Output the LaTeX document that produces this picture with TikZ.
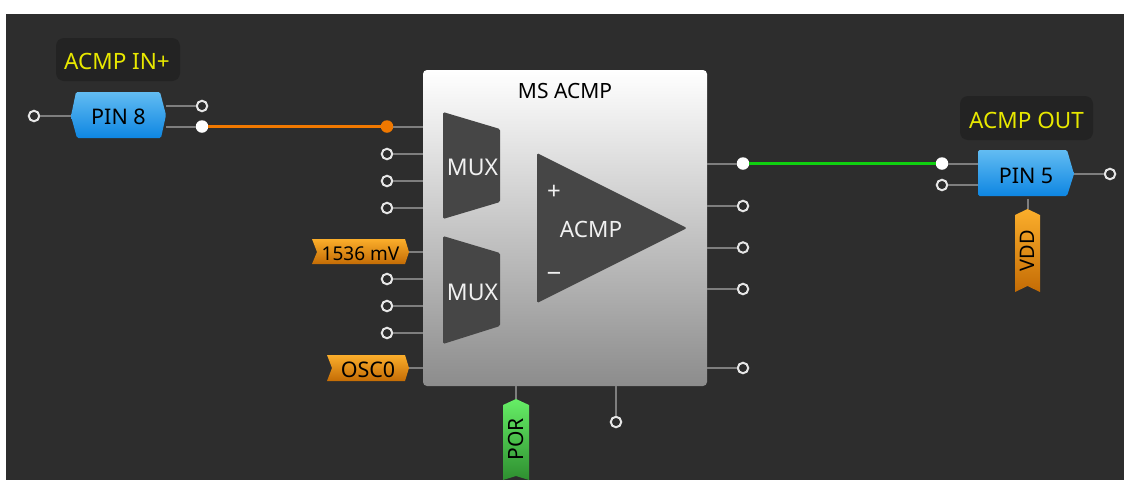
\documentclass[tikz,border=0pt]{standalone}
\usepackage{fontspec}
\setmainfont{Noto Sans}
\definecolor{bgdark}{HTML}{2D2D2D}
\definecolor{labelbg}{HTML}{232323}
\definecolor{wiregray}{HTML}{7E7E7E}
\definecolor{ringc}{HTML}{E6E6E6}
\definecolor{dimc}{HTML}{464646}
\definecolor{texty}{HTML}{E8E800}
\definecolor{ontxt}{HTML}{F0F0F0}
\definecolor{orwirec}{HTML}{F07800}
\definecolor{grwirec}{HTML}{10D010}
\definecolor{pintop}{HTML}{62BCF2}
\definecolor{pinbot}{HTML}{0E86E2}
\definecolor{ortop}{HTML}{FBAE2B}
\definecolor{orbot}{HTML}{C46C05}
\definecolor{grtop}{HTML}{66EE66}
\definecolor{grbot}{HTML}{2E8F30}
\definecolor{blockbot}{HTML}{8C8C8C}
\tikzset{
  x=1pt,y=-1pt,
  port/.style={circle,draw=ringc,fill=bgdark,line width=2pt,minimum size=10.5pt,inner sep=0pt},
  onport/.style={circle,fill=white,minimum size=12.5pt,inner sep=0pt},
  orport/.style={circle,fill=orwirec,minimum size=12.5pt,inner sep=0pt},
  wire/.style={draw=wiregray,line width=2pt},
  orwire/.style={draw=orwirec,line width=2.5pt},
  grwire/.style={draw=grwirec,line width=2.5pt},
  fnt/.style={font=\fontsize{#1}{#1}\selectfont,inner sep=0pt},
  notebox/.style={fill=labelbg,rounded corners=8pt,inner sep=0pt},
  notetext/.style={text=texty,fnt=22.5},
  pinshade/.style={top color=pintop,bottom color=pinbot,rounded corners=1.5pt},
  orshade/.style={top color=ortop,bottom color=orbot},
  grshade/.style={top color=grtop,bottom color=grbot},
  muxshape/.style={fill=dimc,rounded corners=1.5pt},
}
\begin{document}
\begin{tikzpicture}
\useasboundingbox (0,0) rectangle (1124,480);
\fill[white] (0,0) rectangle (1124,480);
\fill[bgdark] (6,14) rectangle (1124,480);

% labels
\node[notebox,minimum width=124pt,minimum height=43pt] (lblin) at (118,59.5) {};
\node[notetext] (lblintext) at (117,61.5) {ACMP IN+};
\node[notebox,minimum width=133pt,minimum height=44pt] (lblout) at (1026.5,118) {};
\node[notetext] (lblouttext) at (1026.5,120) {ACMP OUT};

% main block
\node[rounded corners=4pt,top color=white,bottom color=blockbot,minimum width=284pt,minimum height=316pt,inner sep=0pt] (block) at (565,228) {};
\node[fnt=21,text=black] (blocktitle) at (565,90.5) {MS ACMP};

% muxes and comparator
\fill[muxshape] (443,112) -- (500,129) -- (500,202) -- (443,219) -- cycle;
\fill[muxshape] (443,236) -- (500,253) -- (500,326) -- (443,344) -- cycle;
\fill[muxshape] (537,153) -- (687,228) -- (537,303) -- cycle;
\node[fnt=23,text=ontxt] (mux1) at (472.5,167.5) {MUX};
\node[fnt=23,text=ontxt] (mux2) at (472.5,292.5) {MUX};
\node[fnt=22.5,text=ontxt] (acmp) at (591,229) {ACMP};
\node[fnt=24,text=ontxt] (plus) at (554,192) {+};
\node[fnt=26,text=ontxt] (minus) at (554,277) {\char"2212};

% pin 8
\shade[pinshade] (76,92) -- (160,92) -- (166,115) -- (161,138) -- (77,138) -- (71,116) -- cycle;
\node[fnt=21.5,text=black,minimum width=95pt,minimum height=46pt] (pin8) at (118.5,117) {PIN 8};
% pin 5
\shade[pinshade] (978,150) -- (1067,150) -- (1074,174) -- (1067,196) -- (978,196) -- cycle;
\node[fnt=21.5,text=black,minimum width=96pt,minimum height=46pt] (pin5) at (1026,175.5) {PIN 5};

% tags
\shade[orshade] (312,239) -- (405,239) -- (409,252) -- (405,264) -- (312,264) -- (317,252) -- cycle;
\node[fnt=19,text=black,minimum width=97pt,minimum height=25pt] (tagmv) at (360.5,253.5) {1536 mV};
\coordinate (mvtip) at (409,251.5);
\shade[orshade] (327,355) -- (405,355) -- (409,368) -- (405,381) -- (327,381) -- (332,368) -- cycle;
\node[fnt=21.5,text=black,minimum width=82pt,minimum height=26pt] (tagosc) at (368,369.5) {OSC0};
\coordinate (osctip) at (409,368);
\shade[orshade] (1015,215) -- (1027.5,209) -- (1040,215) -- (1040,292) -- (1027.5,286) -- (1015,292) -- cycle;
\node[fnt=20,text=black,rotate=90,minimum width=83pt,minimum height=25pt] (tagvdd) at (1027.5,250.5) {VDD};
\shade[grshade] (503,405) -- (516,399) -- (529,405) -- (529,480) -- (516,476) -- (503,480) -- cycle;
\node[fnt=21,text=black,rotate=90,minimum width=81pt,minimum height=26pt] (tagpor) at (516,439.5) {POR};

% ports
\node[port] (p8in) at (34,116) {};
\node[port] (p8a) at (202,106) {};
\node[onport] (p8b) at (202,126.5) {};
\node[orport] (i1) at (387,126.5) {};
\node[port] (i2) at (387,154) {};
\node[port] (i3) at (387,181) {};
\node[port] (i4) at (387,208) {};
\node[port] (i6) at (387,279) {};
\node[port] (i7) at (387,306) {};
\node[port] (i8) at (387,333) {};
\node[onport] (o1) at (743,163.5) {};
\node[port] (o2) at (743,206) {};
\node[port] (o3) at (743,247.5) {};
\node[port] (o4) at (743,289) {};
\node[port] (o5) at (743,368) {};
\node[port] (bot) at (616,422) {};
\node[onport] (p5a) at (942,163.5) {};
\node[port] (p5b) at (942,185) {};
\node[port] (p5out) at (1110,174) {};

% connectors
\draw[wire] (p8in) -- (p8in -| pin8.west);
\draw[wire] (p8a) -- (p8a -| pin8.east);
\draw[wire] (p8b) -- (p8b -| pin8.east);
\foreach \n in {i1,i2,i3,i4,i6,i7,i8}{\draw[wire] (\n) -- (\n -| block.west);}
\foreach \n in {o1,o2,o3,o4,o5}{\draw[wire] (\n) -- (\n -| block.east);}
\draw[wire] (mvtip) -- (mvtip -| block.west);
\draw[wire] (osctip) -- (osctip -| block.west);
\draw[wire] (bot) -- (bot |- block.south);
\draw[wire] (tagpor.east) -- (tagpor.east |- block.south);
\draw[wire] (p5a) -- (p5a -| pin5.west);
\draw[wire] (p5b) -- (p5b -| pin5.west);
\draw[wire] (p5out) -- (p5out -| pin5.east);
\draw[wire] (tagvdd.east) -- (tagvdd.east |- pin5.south);
\draw[orwire] (p8b) -- (i1);
\draw[grwire] (o1) -- (p5a);
\end{tikzpicture}
\end{document}
